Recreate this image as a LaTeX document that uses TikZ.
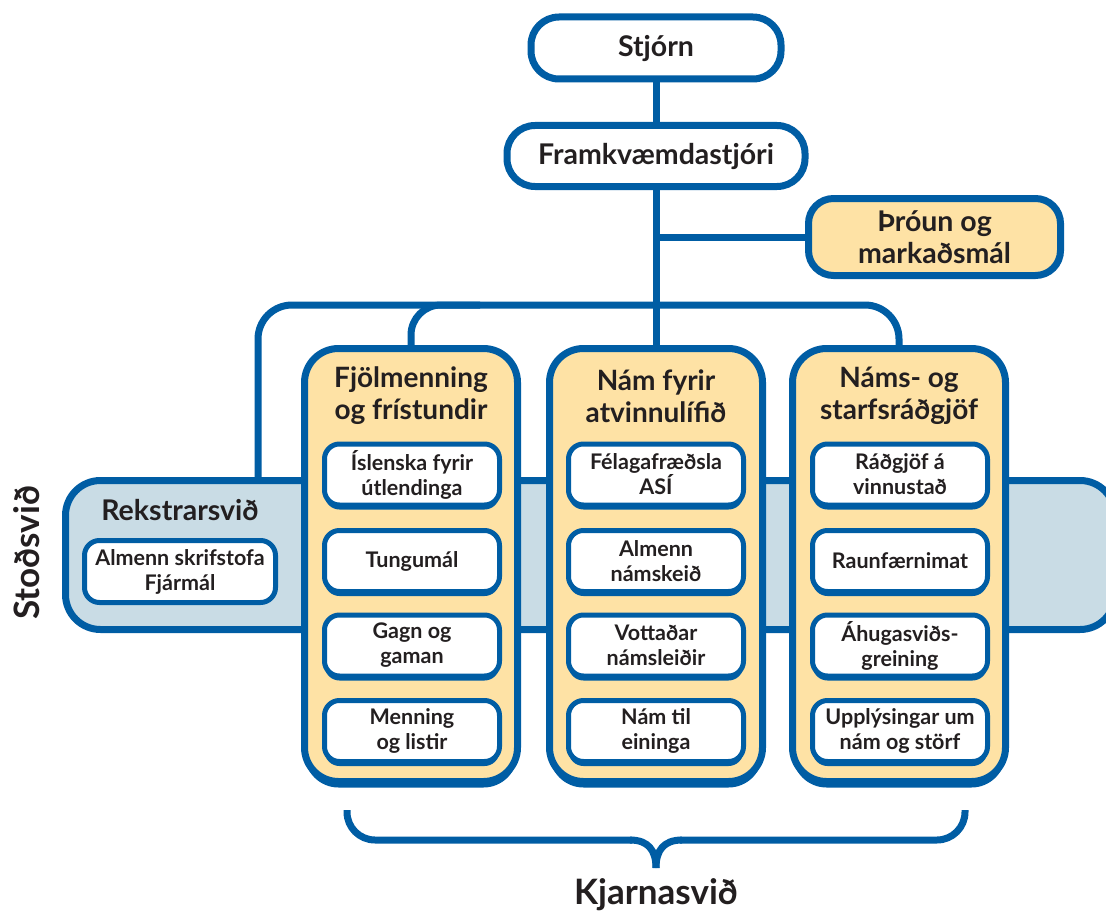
\documentclass[tikz,border=0pt]{standalone}
\usepackage{fontspec}
\setmainfont{Lato}
\usetikzlibrary{shadows}
\definecolor{myblue}{RGB}{0,93,164}
\definecolor{myyellow}{RGB}{254,226,165}
\definecolor{myband}{RGB}{201,220,229}
\definecolor{mytext}{RGB}{35,31,32}
\tikzset{
  conn/.style={draw=myblue, line width=7pt},
  box/.style={draw=myblue, line width=7pt, fill=white, rounded corners=28pt, align=center,
    text=mytext, inner sep=0pt, font=\bfseries\fontsize{28.5}{32}\selectfont},
  colbox/.style={draw=myblue, line width=7pt, fill=myyellow, rounded corners=34pt, inner sep=0pt,
    minimum width=213pt, minimum height=433pt,
    drop shadow={shadow xshift=0pt, shadow yshift=-6pt, fill=myblue, opacity=1}},
  coltitle/.style={align=center, text=mytext, inner sep=0pt, font=\bfseries\fontsize{28}{32}\selectfont},
  inbox/.style={draw=myblue, line width=5pt, fill=white, rounded corners=15pt, align=center,
    text=mytext, inner sep=0pt, minimum width=175pt, minimum height=61pt,
    font=\bfseries\fontsize{21.5}{25}\selectfont},
  shinbox/.style={inbox, drop shadow={shadow xshift=0pt, shadow yshift=-4.5pt, fill=myblue, opacity=1}},
  lbl/.style={text=mytext, inner sep=0pt, font=\bfseries}
}
\begin{document}
\begin{tikzpicture}[x=1pt,y=-1pt]
\clip (0,0) rectangle (1106,915);
\fill[white] (0,0) rectangle (1106,915);

% support band
\node[draw=myblue, line width=7pt, fill=myband, rounded corners=35pt, inner sep=0pt,
  minimum width=1049.5pt, minimum height=149pt] (band) at (590.25,555) {};
\node[lbl, font=\bfseries\fontsize{28.5}{32}\selectfont] (rekstur) at (180,510) {Rekstrarsvið};
\node[inbox, minimum width=191pt, minimum height=62pt] (almenn) at (180,571.5) {Almenn skrifstofa\\Fjármál};
\node[lbl, rotate=90, font=\bfseries\fontsize{35}{38}\selectfont] (stodsvid) at (27,553) {Stoðsvið};

% top boxes
\node[box, minimum width=250pt, minimum height=62pt] (stjorn) at (656,48) {Stjórn};
\node[box, minimum width=298pt, minimum height=61pt] (framk) at (656,156) {Framkvæmdastjóri};
\node[box, fill=myyellow, rounded corners=25pt, minimum width=252pt, minimum height=77pt,
  font=\bfseries\fontsize{28.5}{32}\selectfont] (throun) at (934.5,237) {Þróun og\\markaðsmál};

% columns
\node[colbox] (c1) at (411,565) {};
\node[colbox] (c2) at (656,565) {};
\node[colbox] (c3) at (899,565) {};

\node[coltitle] (t1) at (411,396) {Fjölmenning\\og frístundir};
\node[coltitle] (t2) at (656,396) {Nám fyrir\\atvinnulífið};
\node[coltitle] (t3) at (899,396) {Náms- og\\starfsráðgjöf};

\node[shinbox] (c1a) at (412,474.5) {Íslenska fyrir\\útlendinga};
\node[shinbox] (c1b) at (412,561) {Tungumál};
\node[shinbox] (c1c) at (412,645.5) {Gagn og\\gaman};
\node[shinbox] (c1d) at (412,731) {Menning\\og listir};

\node[shinbox] (c2a) at (656,474.5) {Félagafræðsla\\ASÍ};
\node[shinbox] (c2b) at (656,561) {Almenn\\námskeið};
\node[shinbox] (c2c) at (656,645.5) {Vottaðar\\námsleiðir};
\node[shinbox] (c2d) at (656,731) {Nám til\\eininga};

\node[shinbox] (c3a) at (900,474.5) {Ráðgjöf á\\vinnustað};
\node[shinbox] (c3b) at (900,561) {Raunfærnimat};
\node[shinbox] (c3c) at (900,645.5) {Áhugasviðs-\\greining};
\node[shinbox] (c3d) at (900,731) {Upplýsingar um\\nám og störf};

% connectors
\draw[conn] (stjorn.south) -- (framk.north);
\draw[conn] (framk.south) -- (c2.north);
\draw[conn] (framk.south |- throun.west) -- (throun.west);
\coordinate (tapL) at (258,480.5);
\draw[conn, rounded corners=34pt] (tapL) -- (258,305) -- (899,305) -- (c3.north);
\draw[conn, rounded corners=30pt] (c1.north) -- (411,305) -- (480,305);

% brace
\draw[conn, rounded corners=28pt] (347,810) -- (347,840) -- (632,840);
\draw[conn] (630,840) .. controls (648,840) and (656,850) .. (656,868);
\draw[conn] (682,840) .. controls (664,840) and (656,850) .. (656,868);
\draw[conn, rounded corners=28pt] (680,840) -- (965,840) -- (965,810);
\node[lbl, font=\bfseries\fontsize{35}{40}\selectfont] (kjarni) at (656,895) {Kjarnasvið};
\end{tikzpicture}
\end{document}
